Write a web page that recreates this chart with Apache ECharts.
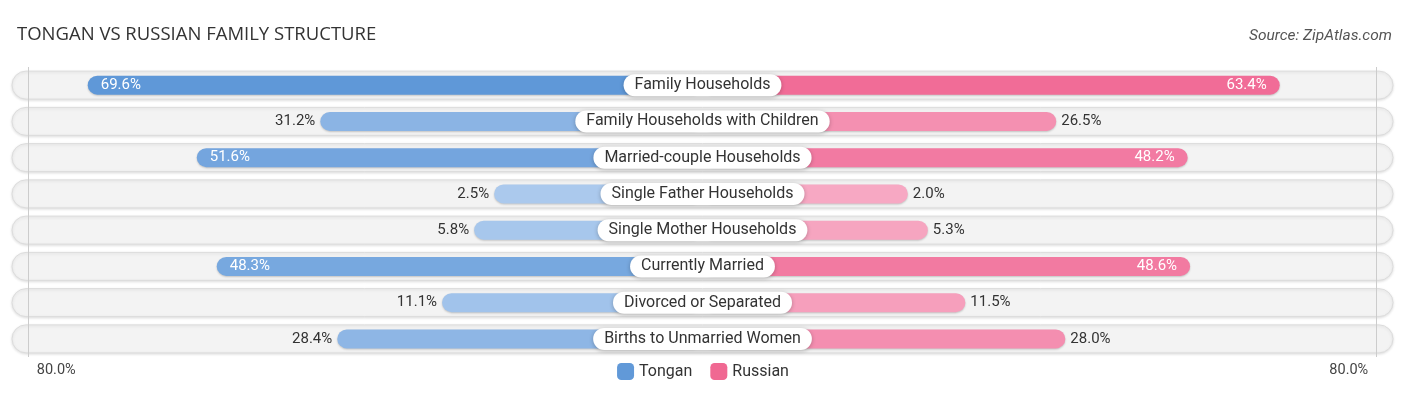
<!DOCTYPE html>
<html><head><meta charset="utf-8">
<script src="https://cdn.jsdelivr.net/npm/echarts@6/dist/echarts.min.js"></script>
<style>html,body{margin:0;padding:0;background:#fff}#c{width:1406px;height:395px}</style>
</head><body><div id="c"></div>
<script>
const categories = ["Family Households","Family Households with Children","Married-couple Households","Single Father Households","Single Mother Households","Currently Married","Divorced or Separated","Births to Unmarried Women"];
const tongan = [69.6,31.2,51.6,2.5,5.8,48.3,11.1,28.4];
const russian = [63.4,26.5,48.2,2.0,5.3,48.6,11.5,28.0];
const axisTickLabel = "80.0%";

const OFFSET = 31.9;   // room under the centre label
const EDGE = 114;      // half-width of the row pill
const GRIDV = 111.3;   // vertical guide lines
const INSIDE = 40;

function mix(a,b,t){const pa=[1,3,5].map(i=>parseInt(a.substr(i,2),16)),pb=[1,3,5].map(i=>parseInt(b.substr(i,2),16));return 'rgb('+pa.map((v,i)=>Math.round(v+(pb[i]-v)*t)).join(',')+')';}
const T_DARK='#5f98d8',T_LIGHT='#aecbee',R_DARK='#f06592',R_LIGHT='#f7aac4';
const maxV=70;

const tData = tongan.map(v=>{const inside=v>INSIDE;return {value:-(v+OFFSET),raw:v,itemStyle:{color:mix(T_LIGHT,T_DARK,Math.min(1,v/maxV))},label:{position:inside?'insideLeft':'left',color:inside?'#fff':'#333',distance:inside?13:5}};});
const rData = russian.map(v=>{const inside=v>INSIDE;return {value:v+OFFSET,raw:v,itemStyle:{color:mix(R_LIGHT,R_DARK,Math.min(1,v/maxV))},label:{position:inside?'insideRight':'right',color:inside?'#fff':'#333',distance:inside?13:5}};});

const chart = echarts.init(document.getElementById('c'));
chart.setOption({
  animation:false,
  title:[{text:'TONGAN VS RUSSIAN FAMILY STRUCTURE',left:12,top:20,textStyle:{fontFamily:'Open Sans',fontWeight:'normal',fontSize:18.5,color:'#333'}},
         {text:'Source: ZipAtlas.com',right:9,top:23,textStyle:{fontFamily:'Roboto',fontStyle:'italic',fontWeight:'normal',fontSize:15.5,color:'#555'}}],
  legend:{top:358,left:'center',itemWidth:17,itemHeight:17,itemGap:18,textStyle:{fontFamily:'Roboto',fontSize:16,color:'#333'},data:[{name:'Tongan',itemStyle:{color:'#6199d8'}},{name:'Russian',itemStyle:{color:'#f06892'}}]},
  grid:{left:12,right:13,top:67,bottom:38},
  xAxis:{type:'value',min:-EDGE,max:EDGE,splitLine:{show:false},axisLine:{show:false},axisTick:{show:false},
    axisLabel:{customValues:[-106.7,106.7],formatter:()=>axisTickLabel,fontFamily:'Roboto',fontSize:14.5,color:'#444',margin:6}},
  yAxis:{type:'category',data:categories,inverse:true,show:false},
  series:[
    {type:'custom',name:'bg',silent:true,z:1,
     renderItem:(params,api)=>{const y=api.value(1);const p0=api.coord([-EDGE,y]);const p1=api.coord([EDGE,y]);const h=28;
       return {type:'rect',shape:{x:p0[0],y:p0[1]-h/2,width:p1[0]-p0[0],height:h,r:h/2},
         style:{fill:'#f3f3f3',stroke:'#dcdcdc',lineWidth:1,shadowBlur:3,shadowColor:'rgba(0,0,0,0.12)',shadowOffsetY:1}};},
     data:categories.map((c,i)=>[0,i]),
     markLine:{silent:true,symbol:'none',label:{show:false},lineStyle:{color:'#cccccc',width:1,type:'solid'},data:[{xAxis:-GRIDV},{xAxis:GRIDV}]}},
    {type:'bar',name:'Tongan',stack:'d',barWidth:19,z:3,data:tData,
     itemStyle:{borderRadius:10,shadowBlur:2,shadowColor:'rgba(0,0,0,0.2)',shadowOffsetY:1},
     label:{show:true,fontFamily:'Roboto',fontSize:15,formatter:p=>p.data.raw.toFixed(1)+'%'}},
    {type:'bar',name:'Russian',stack:'d',barWidth:19,z:3,data:rData,
     itemStyle:{borderRadius:10,shadowBlur:2,shadowColor:'rgba(0,0,0,0.2)',shadowOffsetY:1},
     label:{show:true,fontFamily:'Roboto',fontSize:15,formatter:p=>p.data.raw.toFixed(1)+'%'}},
    {type:'scatter',name:'labels',symbolSize:0,z:5,silent:true,itemStyle:{opacity:1},data:categories.map((c,i)=>[0,i]),
     label:{show:true,position:'inside',opacity:1,formatter:p=>categories[p.dataIndex],fontFamily:'Roboto',fontSize:16,color:'#333',
       backgroundColor:'#ffffff',borderRadius:12,padding:[3,11,3,11],shadowBlur:4,shadowColor:'rgba(0,0,0,0.25)',shadowOffsetY:1}}
  ]
});
</script></body></html>
